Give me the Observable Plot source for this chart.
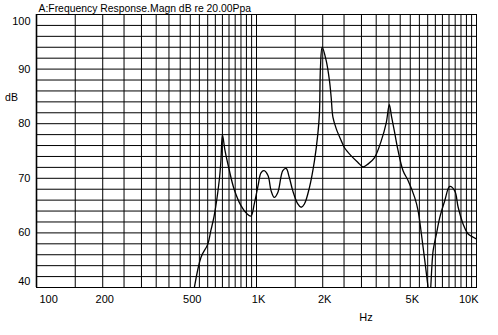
<!DOCTYPE html>
<html>
<head>
<meta charset="utf-8">
<script src="https://cdn.jsdelivr.net/npm/d3@7"></script>
<script src="https://cdn.jsdelivr.net/npm/@observablehq/plot@0.6"></script>
<style>
  html, body { margin: 0; padding: 0; background: #fff; }
</style>
</head>
<body>
<div id="chart"></div>
<script>
// Frequency (Hz) and magnitude (dB)
const freq = [510, 559, 600, 620, 642, 677, 689, 700, 719, 749, 790, 850, 905, 944,
  977, 1016, 1048, 1082, 1128, 1165, 1205, 1250, 1317, 1363, 1411, 1462, 1541, 1595,
  1651, 1740, 1834, 1900, 1932, 1953, 1988, 2073, 2146, 2185, 2225, 2303, 2427, 2512,
  2695, 2891, 3046, 3210, 3441, 3692, 3890, 4014, 4110, 4244, 4399, 4637, 4885, 5235,
  5425, 5617, 6025, 6120, 6349, 6574, 6806, 7172, 7556, 7963, 8253, 8698, 9167, 9660, 10000];
const dB = [47.5, 55.5, 57.9, 60.4, 63.1, 69.6, 73.2, 78.0, 75.1, 71.8, 68.1, 65.0, 63.5, 63.1,
  65.3, 68.6, 71.0, 71.4, 70.5, 67.7, 66.5, 67.4, 71.4, 71.8, 70.1, 67.7, 65.3, 64.7,
  65.3, 68.3, 73.2, 78.1, 81.8, 90.3, 94.0, 91.6, 87.9, 84.8, 81.2, 79.1, 76.9, 75.6,
  74.1, 72.9, 72.1, 72.6, 73.8, 76.9, 80.2, 83.5, 81.3, 78.4, 75.1, 71.4, 69.6, 66.5,
  64.1, 59.8, 50.0, 47.5, 56.7, 59.8, 62.8, 65.9, 68.5, 67.7, 64.7, 61.6, 59.8, 59.2, 58.9];

// Grid lines
const gridX = [100, 150, 200, 250, 300, 350, 400, 450, 500, 550, 600, 650, 700, 750, 800,
  850, 900, 950, 1000, 1500, 2000, 2500, 3000, 3500, 4000, 4500, 5000, 5500, 6000, 6500,
  7000, 7500, 8000, 8500, 9000, 9500, 10000];
const gridY = [50, 52, 54, 56, 58, 60, 62, 64, 66, 68, 70, 72, 74, 76, 78, 80, 82, 84, 86,
  88, 90, 92, 94, 96, 98, 100];

// Tick labels
const xTickValues = [100, 200, 500, 1000, 2000, 5000, 10000];
const xTickLabels = ["100", "200", "500", "1K", "2K", "5K", "10K"];
const yTickValues = [100, 90, 80, 70, 60, 50];
const yTickLabels = ["100", "90", "80", "70", "60", "40"];

const curve = freq.map((f, i) => ({f, v: dB[i]}));
const xt = xTickValues.map((v, i) => ({v, t: xTickLabels[i]}));
const yt = yTickValues.map((v, i) => ({v, t: yTickLabels[i]}));

const font = "'Liberation Sans', Arial, Helvetica, sans-serif";

const chart = Plot.plot({
  width: 498,
  height: 335,
  marginLeft: 36,
  marginRight: 22,
  marginTop: 14,
  marginBottom: 48,
  x: {type: "log", domain: [100, 10000], axis: null},
  y: {domain: [50, 100], axis: null},
  style: {fontFamily: font, fontSize: "11px", background: "#fff", color: "#000"},
  marks: [
    Plot.ruleX(gridX, {x: d => d, stroke: "#000", strokeWidth: 1}),
    Plot.ruleY(gridY, {y: d => d, stroke: "#000", strokeWidth: 1}),
    Plot.frame({stroke: "#000", strokeWidth: 1}),
    Plot.ruleX([100], {stroke: "#000", strokeWidth: 1.6}),
    Plot.line(curve, {x: "f", y: "v", curve: "catmull-rom", stroke: "#000", strokeWidth: 1.3, clip: true}),
    // y tick labels
    Plot.text(yt.slice(0, 1), {y: "v", text: "t", frameAnchor: "left", textAnchor: "end", lineAnchor: "middle", dx: -6, dy: 6.5, fontSize: 11}),
    Plot.text(yt.slice(1, 5), {y: "v", text: "t", frameAnchor: "left", textAnchor: "end", lineAnchor: "middle", dx: -6, dy: 0, fontSize: 11}),
    Plot.text(yt.slice(5), {y: "v", text: "t", frameAnchor: "left", textAnchor: "end", lineAnchor: "middle", dx: -6, dy: -6.5, fontSize: 11}),
    // x tick labels
    Plot.text(xt.slice(0, 1), {x: "v", text: "t", frameAnchor: "bottom", textAnchor: "start", lineAnchor: "middle", dx: 3, dy: 11.5, fontSize: 11}),
    Plot.text(xt.slice(1, 6), {x: "v", text: "t", frameAnchor: "bottom", lineAnchor: "middle", dx: 2, dy: 11.5, fontSize: 11}),
    Plot.text(xt.slice(6), {x: "v", text: "t", frameAnchor: "bottom", textAnchor: "end", lineAnchor: "middle", dx: 2, dy: 11.5, fontSize: 11}),
    // titles
    Plot.text(["A:Frequency Response.Magn dB re 20.00Ppa"], {frameAnchor: "top-left", text: d => d, textAnchor: "start", lineAnchor: "middle", dx: 2, dy: -6, fontSize: 10.4}),
    Plot.text(["dB"], {frameAnchor: "top-left", text: d => d, textAnchor: "middle", lineAnchor: "middle", dx: -25, dy: 83.5, fontSize: 10.5}),
    Plot.text(["Hz"], {frameAnchor: "bottom-left", text: d => d, textAnchor: "middle", lineAnchor: "middle", dx: 329.5, dy: 30, fontSize: 11})
  ]
});

document.getElementById("chart").appendChild(chart);
</script>
</body>
</html>
